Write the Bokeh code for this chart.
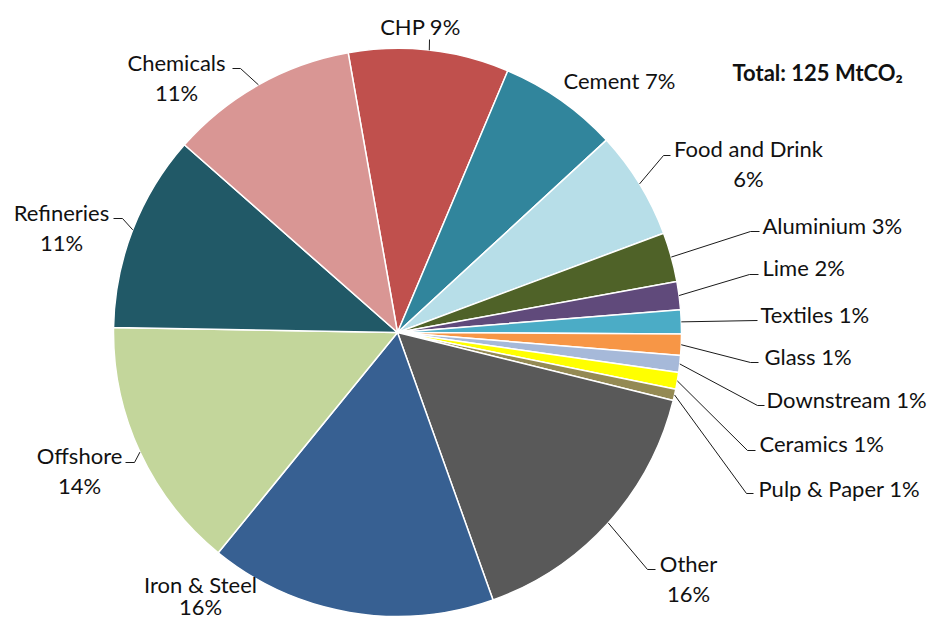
import math
from bokeh.plotting import figure
from bokeh.models import Range1d, ColumnDataSource
from bokeh.embed import file_html
from bokeh.resources import INLINE
from bokeh.core.properties import value

# ---------------- data ----------------
categories = ["CHP", "Cement", "Food and Drink", "Aluminium", "Lime", "Textiles",
              "Glass", "Downstream", "Ceramics", "Pulp & Paper", "Other",
              "Iron & Steel", "Offshore", "Refineries", "Chemicals"]
emissions = [11.4, 8.5, 7.7, 3.5, 2.0, 1.7, 1.5, 1.2, 1.2, 0.8, 19.6, 20.4, 18.0, 14.0, 13.4]
colors = ["#C0504D", "#31859C", "#B7DEE8", "#4F6228", "#604A7B", "#4BACC6",
          "#F79646", "#A6B9D9", "#FFFF00", "#948A54", "#595959",
          "#376092", "#C3D69B", "#215967", "#D99694"]
total_text = "Total: 125 MtCO\u2082"

# ---------------- layout (image pixel coordinates) ----------------
CX, CY, R = 397, 332, 284
START_DEG = -10.0  # clockwise from 12 o'clock
two_line = [False, False, True, False, False, False, False, False, False, False,
            True, True, True, True, True]
label_pos = [(420, 26), (563, 80), (748, 148), (762, 225), (762, 267), (760, 314),
             (764, 356), (766, 399), (759, 443), (758, 488), (688, 563),
             (200, 584), (79, 455), (61, 212), (176, 62)]
line_gap = [30, 30, 30, 30, 30, 30, 30, 30, 30, 30, 30, 22, 30, 30, 30]
label_align = ["center", "left", "center", "left", "left", "left", "left", "left",
               "left", "left", "center", "center", "center", "center", "center"]
leader_pts = [[(429, 39)], None, [(663, 155), (670, 155)], [(750, 231), (759, 231)],
              [(749, 274), (758, 274)], [(757, 320)], [(750, 362), (758, 362)],
              [(757, 405), (764, 405)], [(747, 450), (755, 450)], [(746, 493), (753, 493)],
              [(647, 569), (655, 569)], None, [(134, 462), (125, 462)],
              [(122, 218), (113, 218)], [(240, 68), (232, 68)]]
FONT = "Lato"
FSIZE = "22px"

W, H = 928, 622
p = figure(width=W, height=H, x_range=Range1d(0, W), y_range=Range1d(-H, 0),
           output_backend="svg", toolbar_location=None, min_border=0)
p.axis.visible = False
p.grid.visible = False
p.outline_line_color = None
p.background_fill_color = "white"
p.border_fill_color = "white"

total = sum(emissions)
starts, ends, mids = [], [], []
cum = 0.0
for v in emissions:
    t1 = START_DEG + cum / total * 360.0
    cum += v
    t2 = START_DEG + cum / total * 360.0
    starts.append(math.radians(90 - t2))
    ends.append(math.radians(90 - t1))
    mids.append((t1 + t2) / 2)

src = ColumnDataSource(dict(start=starts, end=ends, color=colors, cat=categories))
p.wedge(x=CX, y=-CY, radius=R, start_angle="start", end_angle="end",
        fill_color="color", line_color="white", line_width=1.5, source=src)

# leader lines
for i, pts in enumerate(leader_pts):
    if pts is None:
        continue
    th = math.radians(mids[i])
    sx = CX + R * math.sin(th)
    sy = CY - R * math.cos(th)
    xs = [sx] + [q[0] for q in pts]
    ys = [-sy] + [-q[1] for q in pts]
    p.line(xs, ys, line_color="#1a1a1a", line_width=1)

# labels
tx, ty, tt, ta = [], [], [], []
for i, name in enumerate(categories):
    pct = f"{round(emissions[i] / total * 100)}%"
    x, y = label_pos[i]
    if two_line[i]:
        tx += [x, x]
        ty += [-y, -(y + line_gap[i])]
        tt += [name, pct]
        ta += [label_align[i]] * 2
    else:
        tx.append(x)
        ty.append(-y)
        tt.append(f"{name} {pct}")
        ta.append(label_align[i])
lsrc = ColumnDataSource(dict(x=tx, y=ty, text=tt, align=ta))
p.text(x="x", y="y", text="text", text_align="align", text_baseline="middle",
       text_font=value(FONT), text_font_size=FSIZE, text_color="#111111", source=lsrc)

p.text(x=[732], y=[-72], text=[total_text], text_align="left", text_baseline="middle",
       text_font=value(FONT), text_font_size="22px", text_font_style="bold",
       text_color="#111111")

open("out.html", "w").write(file_html(p, INLINE))
